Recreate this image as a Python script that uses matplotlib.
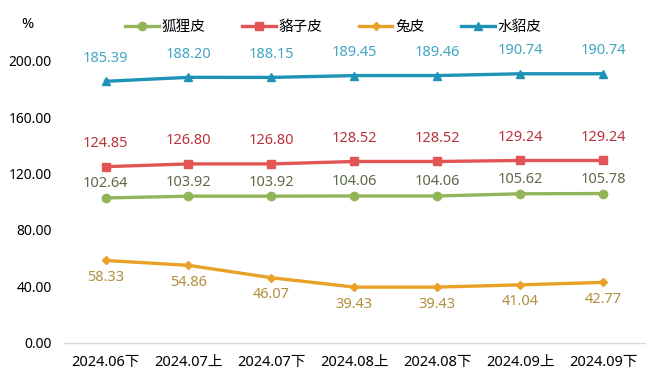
import matplotlib
matplotlib.use('Agg')
import matplotlib.pyplot as plt
import numpy as np

plt.rcParams['font.family'] = ['Noto Sans', 'Noto Sans CJK SC', 'DejaVu Sans']

periods = ['2024.06下', '2024.07上', '2024.07下', '2024.08上',
           '2024.08下', '2024.09上', '2024.09下']
fox = [102.64, 103.92, 103.92, 104.06, 104.06, 105.62, 105.78]
raccoon = [124.85, 126.80, 126.80, 128.52, 128.52, 129.24, 129.24]
rabbit = [58.33, 54.86, 46.07, 39.43, 39.43, 41.04, 42.77]
mink = [185.39, 188.20, 188.15, 189.45, 189.46, 190.74, 190.74]
yticks = [0, 40, 80, 120, 160, 200]

# name, values, line color, label color, marker, label offset (px)
series = [
    ('狐狸皮', fox, '#93B55A', '#5E6B4A', 'o', 14),
    ('貉子皮', raccoon, '#E35555', '#B8333B', 's', 23),
    ('兔皮', rabbit, '#E9A227', '#B38E3E', 'D', -17),
    ('水貂皮', mink, '#1E93B7', '#42A6C4', '^', 23),
]
msize = {'o': 6, 's': 6, 'D': 4.5, '^': 6}

fig = plt.figure(figsize=(6.6, 3.78), dpi=100)
ax = fig.add_axes([0.097, 0.0934, 0.88, 0.746])

x = np.arange(len(periods))
for name, vals, lc, tc, mk, off in series:
    ax.plot(x, vals, color=lc, lw=2.4, marker=mk, ms=msize[mk],
            label=name, clip_on=False, zorder=3)
    for xi, v in zip(x, vals):
        ax.annotate(f'{v:.2f}', (xi, v), xytext=(0, off),
                    textcoords='offset pixels', ha='center', va='center',
                    color=tc, fontsize=10.5, annotation_clip=False)

ax.set_xlim(-0.5, len(periods) - 0.5)
ax.set_ylim(0, 200)
ax.set_yticks(yticks)
ax.set_yticklabels([f'{t:.2f}' for t in yticks], fontsize=10)
ax.set_xticks(x)
ax.set_xticklabels(periods, fontsize=10.5)
ax.tick_params(axis='x', length=0, pad=9)
ax.tick_params(axis='y', length=0, pad=9)
for s in ['top', 'right', 'left']:
    ax.spines[s].set_visible(False)
ax.spines['bottom'].set_color('#D9D9D9')
ax.spines['bottom'].set_linewidth(1)

fig.text(0.041, 0.936, '%', ha='center', va='center', fontsize=10.5)
leg = fig.legend(loc='center', bbox_to_anchor=(0.505, 0.929), ncol=4,
                 frameon=False, handlelength=2.3, handletextpad=0.2,
                 columnspacing=2.5,
                 prop={'family': ['Noto Sans CJK SC'], 'size': 10.5})

fig.savefig('out.png', dpi=100)
